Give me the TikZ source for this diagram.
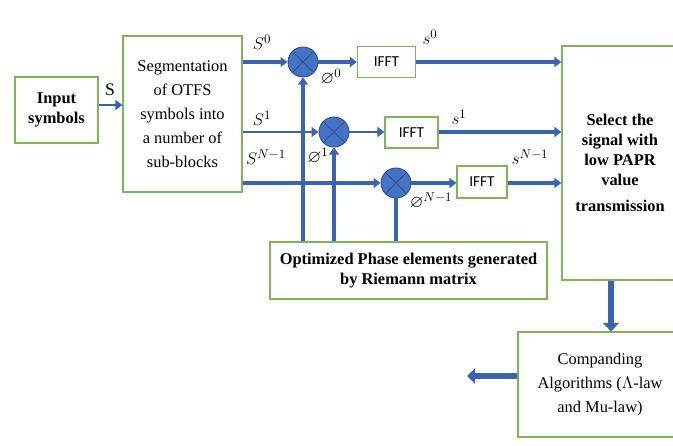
\documentclass[tikz,border=0pt]{standalone}
\usepackage{amsmath,amssymb}
\usepackage{xcolor}
\usepackage{fontspec}
\setmainfont{Liberation Serif}
\newfontfamily\ifftfont{Carlito}
\usepackage{tikz}
\usetikzlibrary{arrows.meta,calc}

\definecolor{boxgreen}{RGB}{125,182,84}
\definecolor{busblue}{RGB}{58,100,176}
\definecolor{mixfill}{RGB}{68,114,196}
\definecolor{mixline}{RGB}{47,82,143}

\begin{document}
\begin{tikzpicture}[
    x=0.03cm, y=-0.03cm,
    every node/.style={font=\fontsize{14}{17}\selectfont},
    blockbox/.style={draw=boxgreen, line width=1pt, fill=white, align=center, inner sep=0pt},
    fftbox/.style={blockbox, font=\ifftfont\fontsize{13}{15}\selectfont},
    mixer/.style={circle, draw=mixline, fill=mixfill, line width=0.8pt, minimum size=30*0.03cm, inner sep=0pt,
      path picture={\draw[mixline, line width=0.8pt]
        (path picture bounding box.north west) -- (path picture bounding box.south east)
        (path picture bounding box.north east) -- (path picture bounding box.south west);}},
    bus/.style={draw=busblue, line width=3.2pt, -{Triangle[length=6pt,width=8.5pt]}},
    thinbus/.style={bus, line width=2.4pt},
    fatarrow/.style={draw=busblue, line width=5pt, -{Triangle[length=7pt,width=13pt]}},
    lbl/.style={font=\fontsize{15}{17}\selectfont}
  ]
    \useasboundingbox (0,0) rectangle (673,445);
    \clip (0,0) rectangle (673,445);

    % blocks
    \node[blockbox, minimum width=83*0.03cm, minimum height=66*0.03cm, font=\bfseries\fontsize{14}{17}\selectfont]
      (inp) at (56.5,110) {Input\\symbols};
    \node[blockbox, minimum width=119*0.03cm, minimum height=156*0.03cm, font=\fontsize{14}{20.5}\selectfont]
      (seg) at (182.5,114) {Segmentation\\of OTFS\\symbols into\\a number of\\sub-blocks};
    \node[blockbox, minimum width=277*0.03cm, minimum height=57*0.03cm, font=\bfseries\fontsize{14}{16.5}\selectfont]
      (opt) at (408.5,270.5) {Optimized Phase elements generated\\by Riemann matrix};
    \node[blockbox, minimum width=116*0.03cm, minimum height=234*0.03cm, font=\bfseries\fontsize{14}{17}\selectfont]
      (sel) at (620,163) {Select the\\signal with\\low PAPR\\value\\[6pt]transmission};
    \node[blockbox, minimum width=164*0.03cm, minimum height=105*0.03cm, font=\fontsize{14}{20.5}\selectfont]
      (comp) at (600,384.5) {Companding\\Algorithms ($\Lambda$-law\\and Mu-law)};

    % mixers
    \node[mixer] (mix0) at (303,62) {};
    \node[mixer] (mix1) at (334,132) {};
    \node[mixer] (mix2) at (396,183) {};

    % ifft blocks
    \node[fftbox, minimum width=58*0.03cm, minimum height=31*0.03cm] (ifft0) at (386.5,62) {IFFT};
    \node[fftbox, minimum width=53*0.03cm, minimum height=31*0.03cm] (ifft1) at (411.5,132.5) {IFFT};
    \node[fftbox, minimum width=50*0.03cm, minimum height=32*0.03cm] (ifft2) at (482,182) {IFFT};

    % connectors
    \draw[thinbus] (inp.east |- 0,105) -- (seg.west |- 0,105);
    \draw[bus] (seg.east |- mix0) -- (mix0.west);
    \draw[thinbus] (seg.east |- mix1) -- (mix1.west);
    \draw[bus] (seg.east |- mix2) -- (mix2.west);
    \draw[bus] (mix0.east) -- (ifft0.west);
    \draw[thinbus] (mix1.east) -- (ifft1.west |- mix1);
    \draw[bus] (mix2.east) -- (ifft2.west |- mix2);
    \draw[bus] (ifft0.east) -- (sel.west |- ifft0);
    \draw[bus] (ifft1.east |- mix1) -- (sel.west |- mix1);
    \draw[bus] (ifft2.east |- mix2) -- (sel.west |- mix2);
    \draw[bus] (opt.north -| mix0) -- (mix0.south);
    \draw[bus] (opt.north -| mix1) -- (mix1.south);
    \draw[draw=busblue, line width=3.2pt] (opt.north -| mix2) -- (mix2.south);
    \draw[fatarrow] (sel.south -| 611,0) -- (comp.north -| 611,0);
    \draw[fatarrow] (comp.west |- 0,376) -- (467,376);

    % labels
    \node[lbl] (lS) at (110,90) {S};
    \node[lbl] (lS0) at (262,42) {$S^{0}$};
    \node[lbl] (lS1) at (262,118) {$S^{1}$};
    \node[lbl] (lS2) at (266,157) {$S^{N-1}$};
    \node[lbl] (ls0) at (430,37) {$s^{0}$};
    \node[lbl] (ls1) at (459,117) {$s^{1}$};
    \node[lbl] (ls2) at (530,157) {$s^{N-1}$};
    \node[lbl] (lp0) at (331,77) {$\varnothing^{0}$};
    \node[lbl] (lp1) at (318,156) {$\varnothing^{1}$};
    \node[lbl] (lp2) at (431,201) {$\varnothing^{N-1}$};
  \end{tikzpicture}
\end{document}
